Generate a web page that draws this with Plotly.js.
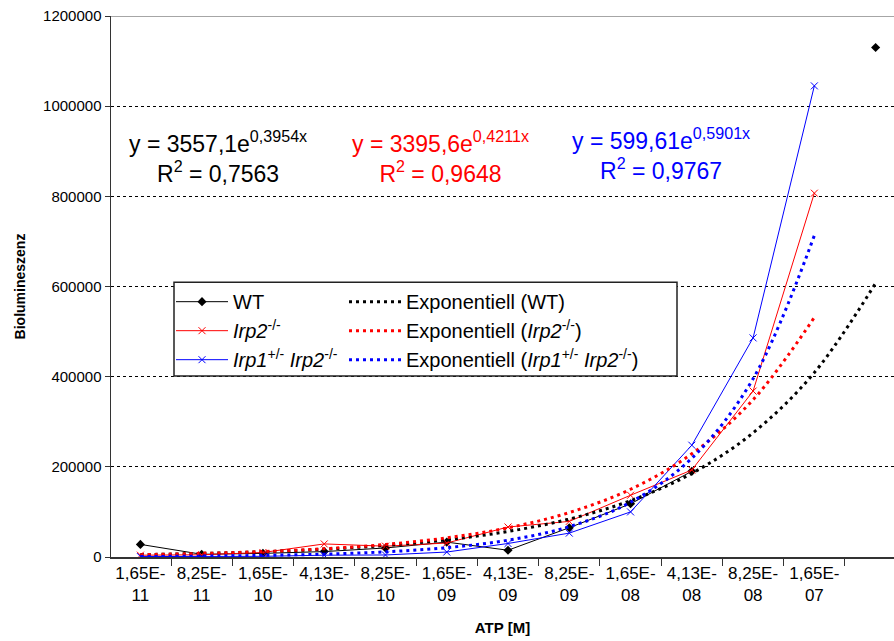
<!DOCTYPE html>
<html><head><meta charset="utf-8">
<script src="https://cdn.plot.ly/plotly-3.0.1.min.js"></script>
<style>html,body{margin:0;padding:0;background:#fff}#chart{width:894px;height:641px}</style>
</head><body><div id="chart"></div>
<script>
// ATP concentration categories (two-line tick labels)
const categories = ["1,65E-<br>11","8,25E-<br>11","1,65E-<br>10","4,13E-<br>10","8,25E-<br>10","1,65E-<br>09","4,13E-<br>09","8,25E-<br>09","1,65E-<br>08","4,13E-<br>08","8,25E-<br>08","1,65E-<br>07"," "];

// Measured bioluminescence
const wtValues   = [28000, 6000, 8000, 12000, 20000, 33000, 15000, 65000, 118000, 190000, null, null, 1130000];
const irp2Values = [4000, 5000, 10000, 29000, 24000, 31000, 66500, 79000, 137000, 193000, 368000, 807000];
const irp1Values = [1000, 1000, 1500, 4000, 4500, 11000, 30000, 53000, 100000, 248000, 486000, 1045000];

// Exponential trend lines (values of the fitted curves shown in the chart)
const trendWT   = [5282, 7844, 11648, 17297, 25686, 38144, 56643, 84114, 124908, 185487, 275444, 409030, 607400];
const trendIrp2 = [5174, 7882, 12010, 18298, 27880, 42479, 64722, 98613, 150249, 228924, 348796, 531436];
const trendIrp1 = [1082, 1952, 3521, 6353, 11462, 20679, 37309, 67312, 121443, 219107, 395307, 713201];

// Text
const seriesNames = ["WT", "<i>Irp2</i><sup>-/-</sup>", "<i>Irp1</i><sup>+/-</sup> <i>Irp2</i><sup>-/-</sup>"];
const trendNames = ["Exponentiell (WT)", "Exponentiell (<i>Irp2</i><sup>-/-</sup>)", "Exponentiell (<i>Irp1</i><sup>+/-</sup> <i>Irp2</i><sup>-/-</sup>)"];
const equations = [
  "y = 3557,1e<sup>0,3954x</sup><br>R<sup>2</sup> = 0,7563",
  "y = 3395,6e<sup>0,4211x</sup><br>R<sup>2</sup> = 0,9648",
  "y = 599,61e<sup>0,5901x</sup><br>R<sup>2</sup> = 0,9767"
];
const xTitle = "ATP [M]";
const yTitle = "Biolumineszenz";

const FONT = "Liberation Sans, Arial, sans-serif";
const cx = n => categories.slice(0, n);

const traces = [
  {x: cx(wtValues.length), y: wtValues, name: seriesNames[0], mode: "lines+markers", connectgaps: false,
   line: {color: "#000000", width: 1}, marker: {symbol: "diamond", size: 7, color: "#000000"}, legend: "legend"},
  {x: cx(irp2Values.length), y: irp2Values, name: seriesNames[1], mode: "lines+markers",
   line: {color: "#FF0000", width: 1}, marker: {symbol: "x-thin-open", size: 7, color: "#FF0000", line: {color: "#FF0000", width: 1}}, legend: "legend"},
  {x: cx(irp1Values.length), y: irp1Values, name: seriesNames[2], mode: "lines+markers",
   line: {color: "#0000FF", width: 1}, marker: {symbol: "x-thin-open", size: 7, color: "#0000FF", line: {color: "#0000FF", width: 1}}, legend: "legend"},
  {x: cx(trendWT.length), y: trendWT, name: trendNames[0], mode: "lines",
   line: {color: "#000000", width: 3, dash: "3px,4px", shape: "spline"}, legend: "legend2"},
  {x: cx(trendIrp2.length), y: trendIrp2, name: trendNames[1], mode: "lines",
   line: {color: "#FF0000", width: 3, dash: "3px,4px", shape: "spline"}, legend: "legend2"},
  {x: cx(trendIrp1.length), y: trendIrp1, name: trendNames[2], mode: "lines",
   line: {color: "#0000FF", width: 3, dash: "3px,4px", shape: "spline"}, legend: "legend2"}
];

const layout = {
  width: 894, height: 641,
  margin: {l: 111, r: 0, t: 16, b: 84},
  paper_bgcolor: "#ffffff", plot_bgcolor: "#ffffff",
  font: {family: FONT, color: "#000000", size: 15},
  showlegend: true,
  xaxis: {
    type: "category", categoryorder: "array", categoryarray: categories,
    range: [-0.48, 12.3], tickson: "boundaries", ticks: "outside", ticklen: 7, tickcolor: "#333333",
    tickangle: 0,
    showline: true, linecolor: "#333333", linewidth: 1.5, showgrid: false, zeroline: false,
    tickfont: {family: FONT, size: 17, color: "#000000"},
    title: {text: xTitle, font: {family: FONT, size: 15, weight: "bold"}, standoff: 18}
  },
  yaxis: {
    range: [0, 1200000], dtick: 200000, tick0: 0, tickformat: "d",
    ticks: "outside", ticklen: 5, tickcolor: "#333333",
    showline: true, linecolor: "#333333", linewidth: 1.5,
    showgrid: true, gridcolor: "#000000", gridwidth: 1, griddash: "3px,3px", zeroline: false,
    tickfont: {family: FONT, size: 15, color: "#000000"},
    title: {text: yTitle, font: {family: FONT, size: 14, weight: "bold"}, standoff: 14}
  },
  legend: {x: (171-111)/783, y: 0.508, xanchor: "left", yanchor: "top", bgcolor: "rgba(0,0,0,0)",
    borderwidth: 0, font: {family: FONT, size: 20, color: "#000000"}, itemwidth: 52, tracegroupgap: 0},
  legend2: {x: (344-111)/783, y: 0.508, xanchor: "left", yanchor: "top", bgcolor: "rgba(0,0,0,0)",
    borderwidth: 0, font: {family: FONT, size: 20, color: "#000000"}, itemwidth: 52, tracegroupgap: 0},
  shapes: [
    {type: "line", xref: "paper", yref: "y", x0: 0, x1: 1, y0: 1200000, y1: 1200000,
     line: {color: "#888888", width: 1.5}, layer: "above"},
    {type: "rect", xref: "paper", yref: "paper", x0: (174-111)/783, x1: (677-111)/783, y0: 0.3346, y1: 0.508,
     line: {color: "#222222", width: 1.5}, fillcolor: "#ffffff", layer: "above"}
  ],
  annotations: [
    {text: equations[0], xref: "paper", yref: "y", x: (218-111)/783, y: 888000, xanchor: "center", yanchor: "middle",
     showarrow: false, align: "center", font: {family: FONT, size: 23, color: "#000000"}},
    {text: equations[1], xref: "paper", yref: "y", x: (440-111)/783, y: 888000, xanchor: "center", yanchor: "middle",
     showarrow: false, align: "center", font: {family: FONT, size: 23, color: "#FF0000"}},
    {text: equations[2], xref: "paper", yref: "y", x: (661-111)/783, y: 895000, xanchor: "center", yanchor: "middle",
     showarrow: false, align: "center", font: {family: FONT, size: 23, color: "#0000FF"}}
  ]
};

Plotly.newPlot("chart", traces, layout, {displayModeBar: false, staticPlot: true});
</script>
</body></html>
